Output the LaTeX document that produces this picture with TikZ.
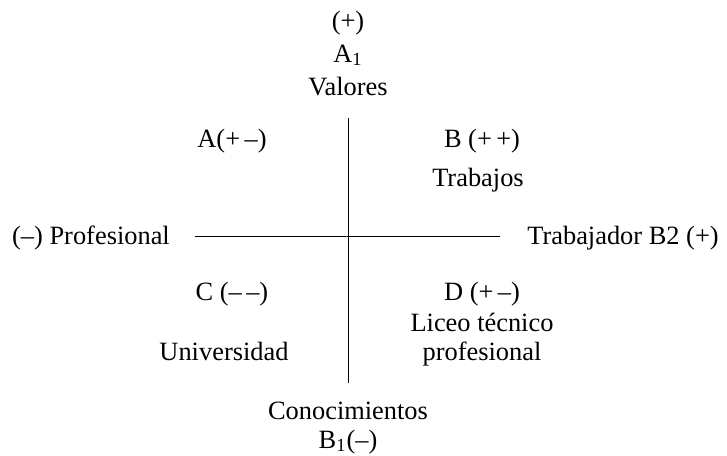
\documentclass[tikz,border=0pt]{standalone}
\usepackage{fontspec}
\setmainfont{Liberation Serif}
\begin{document}
\begin{tikzpicture}[x=0.5pt,y=-0.5pt,font=\fontsize{13.2}{16}\selectfont,
	every node/.style={anchor=base,inner sep=0pt}]
	\useasboundingbox (0,0) rectangle (727,455);
	\coordinate (ejeN) at (348,118);
	\coordinate (ejeS) at (348,383);
	\coordinate (ejeO) at (195,236);
	\coordinate (ejeE) at (500,236);
	\draw[line width=0.5pt] (ejeN) -- (ejeS);
	\draw[line width=0.5pt] (ejeO) -- (ejeE);
	\node (mas) at (348,29) {(+)};
	\node (a1) at (348,62) {A\textsubscript{1}};
	\node (valores) at (348,95) {Valores};
	\node (cuadA) at (232,147) {A(+\,–)};
	\node (cuadB) at (482,147) {B (+\,+)};
	\node (trabajos) at (478,186) {Trabajos};
	\node (profesional) at (91,244) {(–) Profesional};
	\node (trabajador) at (623,244) {Trabajador B2 (+)};
	\node (cuadC) at (232,300) {C (–\,–)};
	\node (cuadD) at (482,300) {D (+\,–)};
	\node (liceo) at (482,331) {Liceo técnico};
	\node (prof2) at (482,360) {profesional};
	\node (universidad) at (224,360) {Universidad};
	\node (conoc) at (348,419) {Conocimientos};
	\node (b1) at (348,448) {B\textsubscript{1}(–)};
\end{tikzpicture}
\end{document}
